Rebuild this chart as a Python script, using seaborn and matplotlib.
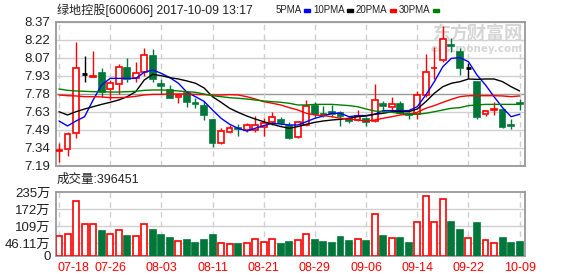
import numpy as np
import pandas as pd
import matplotlib
matplotlib.use("Agg")
import matplotlib.pyplot as plt
import seaborn as sns

# ---------------- data ----------------
dates = ["07-18", "07-26", "08-03", "08-11", "08-21", "08-29", "09-06", "09-14", "09-22", "10-09"]
date_idx = [0, 6, 12, 18, 24, 30, 36, 42, 48, 54]

open_ = [7.310, 7.327, 7.458, 7.944, 7.920, 7.949, 7.821, 7.859, 7.996, 7.908,
         7.963, 8.091, 7.859, 7.813, 7.753, 7.786, 7.704, 7.682, 7.567, 7.381,
         7.471, 7.504, 7.482, 7.482, 7.507, 7.548, 7.567, 7.518, 7.425, 7.526,
         7.685, 7.619, 7.630, 7.622, 7.575, 7.567, 7.573, 7.559, 7.695, 7.676,
         7.695, 7.614, 7.614, 7.772, 7.990, 8.059, 8.182, 8.121, 7.996, 7.876,
         7.616, 7.649, 7.649, 7.526, 7.706]
high = [7.376, 7.471, 8.209, 8.094, 8.132, 7.990, 7.895, 8.026, 8.078, 8.045,
        8.160, 8.146, 7.903, 7.854, 7.786, 7.805, 7.745, 7.723, 7.575, 7.499,
        7.526, 7.534, 7.540, 7.600, 7.581, 7.630, 7.589, 7.553, 7.553, 7.731,
        7.712, 7.685, 7.690, 7.644, 7.594, 7.649, 7.594, 7.862, 7.726, 7.758,
        7.723, 7.635, 7.805, 8.105, 8.168, 8.337, 8.242, 8.160, 8.031, 7.881,
        7.649, 7.717, 7.654, 7.575, 7.740]
low = [7.226, 7.275, 7.422, 7.881, 7.917, 7.758, 7.731, 7.780, 7.881, 7.881,
       7.928, 7.881, 7.777, 7.748, 7.704, 7.676, 7.668, 7.567, 7.349, 7.370,
       7.461, 7.439, 7.466, 7.466, 7.433, 7.526, 7.526, 7.409, 7.422, 7.521,
       7.594, 7.594, 7.592, 7.521, 7.540, 7.559, 7.518, 7.553, 7.635, 7.635,
       7.614, 7.573, 7.573, 7.758, 7.903, 8.045, 8.121, 7.936, 7.908, 7.575,
       7.600, 7.608, 7.499, 7.491, 7.645]
close = [7.322, 7.452, 7.990, 7.944, 7.928, 7.799, 7.867, 7.999, 7.903, 7.949,
         8.100, 7.900, 7.843, 7.750, 7.772, 7.712, 7.695, 7.608, 7.376, 7.477,
         7.499, 7.496, 7.526, 7.526, 7.545, 7.589, 7.545, 7.422, 7.548, 7.685,
         7.614, 7.611, 7.614, 7.603, 7.559, 7.600, 7.553, 7.731, 7.685, 7.695,
         7.622, 7.605, 7.772, 7.958, 7.996, 8.228, 8.173, 7.996, 7.996, 7.594,
         7.644, 7.654, 7.512, 7.521, 7.700]

ma5 = [7.559, 7.518, 7.559, 7.594, 7.731, 7.854, 7.908, 7.908, 7.908, 7.908,
       7.958, 7.977, 7.949, 7.914, 7.868, 7.794, 7.758, 7.720, 7.649, 7.581,
       7.532, 7.499, 7.477, 7.499, 7.521, 7.540, 7.534, 7.526, 7.526, 7.553,
       7.581, 7.600, 7.622, 7.622, 7.594, 7.603, 7.603, 7.614, 7.644, 7.644,
       7.644, 7.644, 7.676, 7.772, 7.881, 8.004, 8.072, 8.078, 8.045, 7.936,
       7.854, 7.758, 7.668, 7.594, 7.614]
ma10 = [7.635, 7.608, 7.635, 7.657, 7.676, 7.695, 7.712, 7.731, 7.758, 7.799,
        7.895, 7.941, 7.930, 7.914, 7.903, 7.887, 7.868, 7.830, 7.758, 7.712,
        7.663, 7.630, 7.600, 7.575, 7.553, 7.532, 7.513, 7.499, 7.513, 7.532,
        7.548, 7.559, 7.567, 7.573, 7.581, 7.594, 7.600, 7.614, 7.622, 7.635,
        7.635, 7.635, 7.657, 7.717, 7.786, 7.840, 7.868, 7.881, 7.903, 7.900,
        7.903, 7.903, 7.881, 7.840, 7.805]
ma20 = [7.772, 7.766, 7.764, 7.758, 7.758, 7.756, 7.750, 7.750, 7.753, 7.761,
        7.772, 7.777, 7.777, 7.780, 7.780, 7.780, 7.777, 7.775, 7.772, 7.772,
        7.775, 7.772, 7.758, 7.739, 7.717, 7.704, 7.690, 7.668, 7.649, 7.622,
        7.608, 7.603, 7.594, 7.581, 7.575, 7.567, 7.559, 7.567, 7.581, 7.594,
        7.608, 7.614, 7.630, 7.663, 7.685, 7.712, 7.736, 7.758, 7.766, 7.766,
        7.766, 7.766, 7.764, 7.758, 7.764]
ma30 = [7.821, 7.810, 7.805, 7.802, 7.799, 7.799, 7.796, 7.796, 7.799, 7.802,
        7.810, 7.813, 7.813, 7.810, 7.805, 7.799, 7.794, 7.780, 7.766, 7.758,
        7.750, 7.745, 7.739, 7.731, 7.723, 7.717, 7.712, 7.704, 7.690, 7.690,
        7.695, 7.695, 7.695, 7.690, 7.685, 7.676, 7.657, 7.641, 7.635, 7.630,
        7.622, 7.614, 7.614, 7.622, 7.635, 7.649, 7.663, 7.668, 7.685, 7.690,
        7.695, 7.695, 7.695, 7.695, 7.695]

volume = [73, 80, 203, 117, 117, 91, 80, 95, 73, 73,
          117, 95, 77, 66, 55, 58, 49, 58, 77, 47,
          44, 44, 47, 62, 52, 62, 44, 52, 58, 80,
          58, 52, 47, 69, 55, 62, 55, 153, 73, 66,
          66, 47, 124, 219, 124, 211, 124, 95, 66, 121,
          58, 47, 66, 47, 52]

price_ticks = ["7.19", "7.34", "7.49", "7.63", "7.78", "7.93", "8.07", "8.22", "8.37"]
vol_tick_vals = [0, 46.11, 109, 172, 235]
vol_tick_labels = ["0", "46.11万", "109万", "172万", "235万"]

title = "绿地控股[600606] 2017-10-09 13:17"
ma_names = ["5PMA", "10PMA", "20PMA", "30PMA"]
vol_text = "成交量:396451"

# ---------------- style ----------------
sns.set_style("white")
FONTS = ["Liberation Sans", "Noto Sans CJK SC", "DejaVu Sans"]
plt.rcParams["font.family"] = FONTS

RED = "#ff0000"
GREEN = "#00773a"
MA_COLORS = ["#0000ff", "#000000", "#ff0000", "#008000"]
GRID = "#d0d0d0"
FRAME = "#999999"
TXT = "#222222"

W, H = 578, 276
fig = plt.figure(figsize=(W / 100, H / 100), dpi=100)
fig.patch.set_facecolor("white")

def px_box(x0, y0, x1, y1):
    return [x0 / W, 1 - y1 / H, (x1 - x0) / W, (y1 - y0) / H]

axp = fig.add_axes(px_box(56, 22, 525, 166))
axv = fig.add_axes(px_box(56, 192, 525, 256))

n = len(close)
idx = np.arange(n)
df = pd.DataFrame({"i": idx, "open": open_, "high": high, "low": low, "close": close,
                   "ma5": ma5, "ma10": ma10, "ma20": ma20, "ma30": ma30, "vol": volume})

xlim = (-0.35, 54.63)
pmin, pmax = 7.19, 8.37
pticks = np.linspace(pmin, pmax, 9)

# ---------- price panel ----------
for k, t in enumerate(pticks):
    axp.axhline(t, color=("#999999" if k == 4 else GRID), lw=1, zorder=0)
for d in date_idx:
    axp.axvline(d, color=GRID, lw=1, ls=(0, (4, 3)), zorder=0)
    axv.axvline(d, color=GRID, lw=1, ls=(0, (4, 3)), zorder=0)

bw = 0.68
for _, r in df.iterrows():
    o, c = r["open"], r["close"]
    if c > o:
        col, fc = RED, "white"
    elif c < o:
        col, fc = GREEN, GREEN
    else:
        col, fc = "black", "black"
    bot, top = min(o, c), max(o, c)
    axp.vlines(r["i"], r["low"], bot, color=col, lw=1, zorder=2)
    axp.vlines(r["i"], top, r["high"], color=col, lw=1, zorder=2)
    if top - bot < 0.004:
        axp.hlines((o + c) / 2, r["i"] - bw / 2, r["i"] + bw / 2, color=col, lw=2, zorder=3)
    else:
        axp.bar(r["i"], top - bot, bottom=bot, width=bw, facecolor=fc,
                edgecolor=col, lw=1.2, zorder=3)

for name, colr in zip(["ma5", "ma10", "ma20", "ma30"], MA_COLORS):
    sns.lineplot(data=df, x="i", y=name, ax=axp, color=colr, lw=1.0, zorder=4)

axp.set_xlim(*xlim)
axp.set_ylim(pmin, pmax)
axp.set_yticks(pticks)
axp.set_yticklabels(price_ticks)
axp.set_xticks([])
axp.set_xlabel("")
axp.set_ylabel("")
axp.tick_params(axis="y", length=0, pad=4, labelsize=9.5, labelcolor=TXT)
for sp in axp.spines.values():
    sp.set_color(FRAME)
    sp.set_linewidth(1.3)

# watermark
axp.text(0.995, 0.925, "东方财富网", transform=axp.transAxes, ha="right", va="center",
         fontsize=13, fontweight="bold", color="#d6d6d6", family=["Noto Sans CJK SC"], zorder=1)
axp.text(0.995, 0.815, "eastmoney.com", transform=axp.transAxes, ha="right", va="center",
         fontsize=7.5, fontweight="bold", color="#d6d6d6", family=["DejaVu Sans"], zorder=1)

# ---------- volume panel ----------
for t in vol_tick_vals[1:-1]:
    axv.axhline(t, color=GRID, lw=1, zorder=0)

sns.barplot(data=df, x="i", y="vol", ax=axv, native_scale=True, width=0.7,
            color=RED, zorder=3)
for p, o, c in zip(axv.patches, open_, close):
    if c >= o:
        p.set_facecolor("white")
        p.set_edgecolor(RED)
    else:
        p.set_facecolor(GREEN)
        p.set_edgecolor(GREEN)
    p.set_linewidth(1.2)

axv.set_xlim(*xlim)
axv.set_ylim(0, 235)
axv.set_yticks(vol_tick_vals)
axv.set_yticklabels(vol_tick_labels)
axv.set_xlabel("")
axv.set_ylabel("")
tick_pos = [1.75] + date_idx[1:]
axv.set_xticks(tick_pos)
axv.set_xticklabels(dates)
axv.tick_params(axis="y", length=0, pad=4, labelsize=9.5, labelcolor=TXT)
axv.tick_params(axis="x", length=0, pad=4, labelsize=9, labelcolor=RED)
for sp in axv.spines.values():
    sp.set_color(FRAME)
    sp.set_linewidth(1.3)

# ---------- header texts ----------
fig.text(57 / W, 1 - 10 / H, title, ha="left", va="center", fontsize=8.7, color=TXT)
leg_x = [276, 313, 356, 399]
fig.canvas.draw()
rend = fig.canvas.get_renderer()
for nm, lx, colr in zip(ma_names, leg_x, MA_COLORS):
    t = fig.text(lx / W, 1 - 10 / H, nm, ha="left", va="center", fontsize=7.0, color=TXT)
    bb = t.get_window_extent(renderer=rend)
    sx = bb.x1 + 2
    fig.patches.append(matplotlib.patches.Rectangle((sx / W, 1 - 12 / H), 6 / W, 3 / H,
                                                    transform=fig.transFigure, color=colr,
                                                    figure=fig))
fig.text(57 / W, 1 - 180 / H, vol_text, ha="left", va="center", fontsize=9, color=TXT)

fig.savefig("out.png", dpi=100, facecolor="white")
